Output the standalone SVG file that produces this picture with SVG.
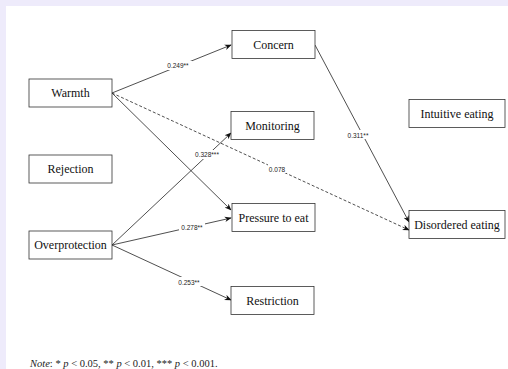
<svg xmlns="http://www.w3.org/2000/svg" width="508" height="369" viewBox="0 0 508 369">
<defs>
<style>
.box{fill:#fff;stroke:#333;stroke-width:0.8}
.nt{font-family:"Liberation Serif","Times New Roman",serif;font-size:12px;fill:#111;text-anchor:middle}
.ln{stroke:#222;stroke-width:0.8;fill:none}
.dash{stroke-dasharray:3,2}
.lb{font-family:"Liberation Sans",Arial,sans-serif;font-size:6.5px;fill:#222;text-anchor:middle}
.lbbg{fill:#fff}
</style>
<marker id="arr" viewBox="0 0 10 10" refX="9" refY="5" markerWidth="7" markerHeight="7" markerUnits="userSpaceOnUse" orient="auto">
<path d="M0,1 L10,5 L0,9 L3,5 Z" fill="#111"/>
</marker>
</defs>
<rect x="0" y="0" width="508" height="369" fill="#eeebfb"/>
<rect x="6" y="6" width="502" height="363" fill="#fff"/>
<g id="connectors">
<line class="ln" x1="112" y1="93" x2="231" y2="45" marker-end="url(#arr)"/>
<line class="ln" x1="112" y1="93" x2="231" y2="210" marker-end="url(#arr)"/>
<line class="ln dash" x1="112" y1="93" x2="409" y2="230" marker-end="url(#arr)"/>
<line class="ln" x1="112" y1="245" x2="231" y2="133" marker-end="url(#arr)"/>
<line class="ln" x1="112" y1="245" x2="231" y2="218" marker-end="url(#arr)"/>
<line class="ln" x1="112" y1="245" x2="231" y2="300" marker-end="url(#arr)"/>
<line class="ln" x1="315" y1="45" x2="409" y2="222" marker-end="url(#arr)"/>
<rect class="lbbg" x="164" y="61" width="28" height="9"/>
<text class="lb" x="178" y="68">0.249**</text>
<rect class="lbbg" x="193" y="150" width="28" height="9"/>
<text class="lb" x="207" y="157">0.328***</text>
<rect class="lbbg" x="268" y="164" width="18" height="9"/>
<text class="lb" x="277" y="171.5">0.078</text>
<rect class="lbbg" x="179" y="222" width="26" height="9"/>
<text class="lb" x="192" y="229.5">0.278**</text>
<rect class="lbbg" x="176" y="277" width="26" height="9"/>
<text class="lb" x="189" y="284.5">0.253**</text>
<rect class="lbbg" x="345" y="130" width="26" height="9"/>
<text class="lb" x="358" y="137.5">0.311**</text>
</g>
<g id="warmth"><rect class="box" x="29" y="79" width="83" height="28"/><text class="nt" x="70.5" y="97">Warmth</text></g>
<g id="rejection"><rect class="box" x="29" y="155" width="83" height="28"/><text class="nt" x="70.5" y="173">Rejection</text></g>
<g id="overprotection"><rect class="box" x="29" y="231" width="83" height="28"/><text class="nt" x="70.5" y="249">Overprotection</text></g>
<g id="concern"><rect class="box" x="232" y="30.5" width="83" height="28"/><text class="nt" x="273.5" y="48.5">Concern</text></g>
<g id="monitoring"><rect class="box" x="231" y="111.5" width="83" height="28"/><text class="nt" x="272.5" y="129.5">Monitoring</text></g>
<g id="pressure"><rect class="box" x="232" y="203.5" width="83" height="28"/><text class="nt" x="273.5" y="221.5">Pressure to eat</text></g>
<g id="restriction"><rect class="box" x="231" y="286.5" width="83" height="28"/><text class="nt" x="272.5" y="304.5">Restriction</text></g>
<g id="intuitive"><rect class="box" x="409" y="99.5" width="96" height="28"/><text class="nt" x="457" y="117.5">Intuitive eating</text></g>
<g id="disordered"><rect class="box" x="409" y="210.5" width="96" height="28"/><text class="nt" x="457" y="228.5">Disordered eating</text></g>
<text x="30" y="367" font-family="'Liberation Serif','Times New Roman',serif" font-size="10.5" fill="#222"><tspan font-style="italic">Note</tspan>: * <tspan font-style="italic">p</tspan> &lt; 0.05, ** <tspan font-style="italic">p</tspan> &lt; 0.01, *** <tspan font-style="italic">p</tspan> &lt; 0.001.</text>
</svg>
